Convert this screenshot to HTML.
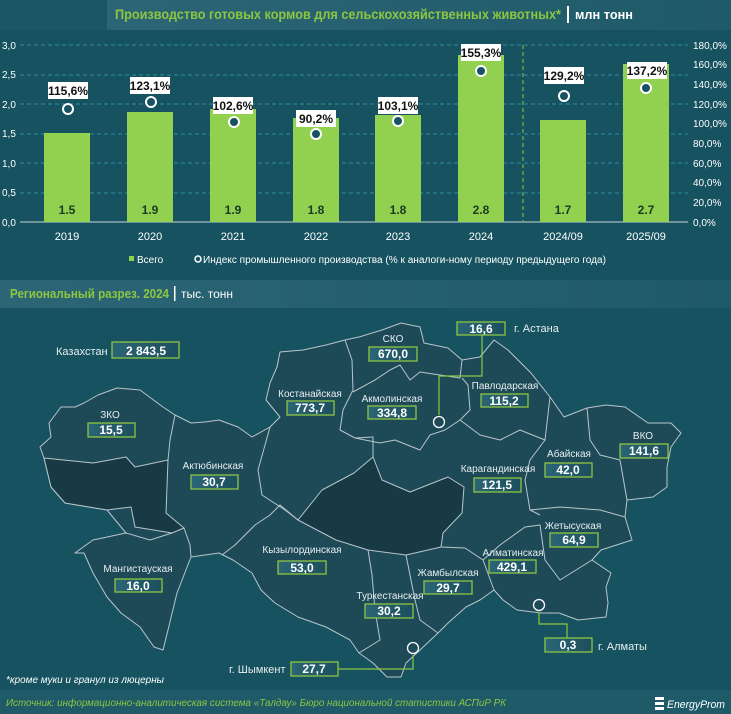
<!DOCTYPE html>
<html><head><meta charset="utf-8"><style>
html,body{margin:0;padding:0;background:#16525f;}
svg{display:block;font-family:"Liberation Sans",sans-serif;}
</style></head><body>
<svg width="731" height="714" viewBox="0 0 731 714" xmlns="http://www.w3.org/2000/svg">
<defs>
<linearGradient id="bx" x1="0" x2="1"><stop offset="0" stop-color="#2b6676"/><stop offset="1" stop-color="#1c4f5d"/></linearGradient>
<linearGradient id="hd" x1="0" x2="1"><stop offset="0" stop-color="#2c6676"/><stop offset="1" stop-color="#1f5a69"/></linearGradient>
</defs>
<rect width="731" height="714" fill="#16525f"/>
<rect x="0" y="0" width="107" height="30" fill="#1b5664"/>
<rect x="107" y="0" width="624" height="30" fill="url(#hd)"/>
<text x="115" y="19" font-size="14" font-weight="bold" fill="#8dc641" textLength="446" lengthAdjust="spacingAndGlyphs">Производство готовых кормов для сельскохозяйственных животных*</text>
<rect x="567" y="6" width="2" height="17" fill="#fff"/>
<text x="575" y="19" font-size="13" font-weight="bold" fill="#fff" textLength="58" lengthAdjust="spacingAndGlyphs">млн тонн</text>
<g stroke="#2e8ea0" stroke-width="1" stroke-dasharray="4,3">
<line x1="20" y1="45" x2="688" y2="45"/><line x1="20" y1="75" x2="688" y2="75"/><line x1="20" y1="104" x2="688" y2="104"/><line x1="20" y1="134" x2="688" y2="134"/><line x1="20" y1="163" x2="688" y2="163"/><line x1="20" y1="193" x2="688" y2="193"/>
</g>
<line x1="20" y1="222" x2="688" y2="222" stroke="#c8d4d8" stroke-width="1"/>
<line x1="523" y1="45" x2="523" y2="222" stroke="#8dc641" stroke-dasharray="4,3"/>
<g font-size="10" fill="#fff">
<text x="2" y="49">3,0</text><text x="2" y="78">2,5</text><text x="2" y="108">2,0</text><text x="2" y="137">1,5</text><text x="2" y="167">1,0</text><text x="2" y="196">0,5</text><text x="2" y="226">0,0</text>
<text x="693" y="49">180,0%</text><text x="693" y="68">160,0%</text><text x="693" y="88">140,0%</text><text x="693" y="108">120,0%</text><text x="693" y="127">100,0%</text><text x="693" y="147">80,0%</text><text x="693" y="167">60,0%</text><text x="693" y="186">40,0%</text><text x="693" y="206">20,0%</text><text x="693" y="226">0,0%</text>
</g>
<g fill="#92d050">
<rect x="44" y="133" width="46" height="89"/>
<rect x="127" y="112" width="46" height="110"/>
<rect x="210" y="109" width="46" height="113"/>
<rect x="293" y="118" width="46" height="104"/>
<rect x="375" y="115" width="46" height="107"/>
<rect x="458" y="55" width="46" height="167"/>
<rect x="540" y="120" width="46" height="102"/>
<rect x="623" y="64" width="46" height="158"/>
</g>
<g font-size="12" font-weight="bold" fill="#1a3a22" text-anchor="middle">
<text x="67" y="214">1.5</text><text x="150" y="214">1.9</text><text x="233" y="214">1.9</text><text x="316" y="214">1.8</text><text x="398" y="214">1.8</text><text x="481" y="214">2.8</text><text x="563" y="214">1.7</text><text x="646" y="214">2.7</text>
</g>
<g font-size="11" fill="#fff" text-anchor="middle">
<text x="67" y="240">2019</text><text x="150" y="240">2020</text><text x="233" y="240">2021</text><text x="316" y="240">2022</text><text x="398" y="240">2023</text><text x="481" y="240">2024</text><text x="563" y="240">2024/09</text><text x="646" y="240">2025/09</text>
</g>
<g fill="#16525f" stroke="#fff" stroke-width="2">
<circle cx="68" cy="109" r="5"/><circle cx="151" cy="102" r="5"/><circle cx="234" cy="122" r="5"/><circle cx="316" cy="134" r="5"/><circle cx="398" cy="121" r="5"/><circle cx="481" cy="71" r="5"/><circle cx="564" cy="96" r="5"/><circle cx="646" cy="88" r="5"/>
</g>
<g fill="#fff">
<rect x="48" y="82" width="40" height="17"/><rect x="130" y="77" width="40" height="17"/><rect x="213" y="97" width="40" height="17"/><rect x="296" y="110" width="40" height="17"/><rect x="378" y="97" width="40" height="17"/><rect x="461" y="44" width="40" height="17"/><rect x="544" y="67" width="40" height="17"/><rect x="627" y="62" width="40" height="17"/>
</g>
<g font-size="12" font-weight="bold" fill="#111" text-anchor="middle">
<text x="68" y="95">115,6%</text><text x="150" y="90">123,1%</text><text x="233" y="110">102,6%</text><text x="316" y="123">90,2%</text><text x="398" y="110">103,1%</text><text x="481" y="57">155,3%</text><text x="564" y="80">129,2%</text><text x="647" y="75">137,2%</text>
</g>
<rect x="129" y="256" width="5" height="5" fill="#92d050"/>
<text x="137" y="263" font-size="10" fill="#fff">Всего</text>
<circle cx="198" cy="259" r="3" fill="#16525f" stroke="#fff" stroke-width="1.5"/>
<text x="203" y="263" font-size="10" fill="#fff" textLength="403" lengthAdjust="spacingAndGlyphs">Индекс промышленного производства (% к аналоги-ному периоду предыдущего года)</text>
<rect x="0" y="277" width="731" height="32" fill="#16525f"/>
<rect x="0" y="280" width="731" height="28" fill="url(#hd)"/>
<text x="10" y="298" font-size="13" font-weight="bold" fill="#8dc641" textLength="159" lengthAdjust="spacingAndGlyphs">Региональный разрез. 2024</text>
<rect x="174" y="286" width="1.5" height="15" fill="#fff"/>
<text x="181" y="298" font-size="12" fill="#fff" textLength="52" lengthAdjust="spacingAndGlyphs">тыс. тонн</text>
<g stroke="#b8c6ca" stroke-width="1" stroke-linejoin="round">
<polygon fill="#1e4a58" points="44,458 40,447 51,437 49,423 61,407 75,407 84,403 98,395 117,388 140,390 163,407 175,415 191,423 205,422 219,420 238,427 252,437 270,427 280,417 266,400 270,383 277,367 280,352 303,350 326,345 345,340 359,337 382,330 401,323 420,327 424,343 448,348 462,360 480,357 494,340 508,350 531,373 550,397 564,417 587,408 606,405 625,407 648,423 671,423 681,433 671,447 667,467 667,487 653,497 627,500 625,517 632,540 601,550 592,560 611,573 606,587 608,603 606,617 578,620 559,613 541,613 517,610 503,600 494,590 480,600 466,607 448,623 438,633 420,650 406,663 401,677 387,677 373,663 359,653 350,640 326,627 298,617 275,603 261,590 252,573 233,560 219,553 191,557 177,593 168,630 163,650 154,647 140,627 121,613 107,597 93,573 84,553 75,553 93,540 126,533 107,510 65,503 51,487"/>
<polygon fill="#173a45" points="44,458 93,463 126,457 135,467 168,460 166,513 184,528 172,533 135,527 131,507 107,510 65,503 51,487"/>
<polygon fill="#173a45" points="298,520 322,490 354,473 373,457 382,480 410,492 448,477 464,487 462,513 443,533 441,547 406,555 368,550 336,540"/>
<g fill="none">
<polyline points="175,415 170,440 168,460"/>
<polyline points="270,427 265,445 258,470 262,495 285,510 298,520"/>
<polyline points="298,520 280,505 270,515 255,525 235,545 222,555"/>
<polyline points="184,528 190,545 191,557"/>
<polyline points="172,533 150,540 126,533"/>
<polyline points="345,340 352,360 353,390 343,410 340,430 355,438 373,437 373,457"/>
<polyline points="353,392 375,380 390,370 400,365 410,380 420,372 440,375 460,378 462,360"/>
<polyline points="355,438 380,443 395,440 420,450 430,435 445,430 460,420 470,410 468,385 462,378"/>
<polyline points="460,420 480,435 500,440 520,430 545,440 550,397"/>
<polyline points="545,440 530,460 525,480 530,510 540,515"/>
<polyline points="587,408 590,440 600,455 620,460 627,500"/>
<polyline points="530,510 560,507 600,510 625,517"/>
<polyline points="483,560 500,545 525,527 540,525 545,560 560,580 592,560"/>
<polyline points="441,547 465,548 483,560 494,590"/>
<polyline points="368,550 372,575 375,610 380,640 359,653"/>
<polyline points="406,555 410,575 415,600 420,620 438,633"/>
</g>
</g>
<g stroke="#8dc641" stroke-width="1.2" fill="none">
<polyline points="482,335 482,376 439,376 439,415"/>
<polyline points="539,612 539,624 567,624 567,638"/>
<polyline points="338,669 413,669 413,655"/>
</g>
<g fill="none" stroke="#fff" stroke-width="1.3">
<circle cx="439" cy="422" r="5.5"/><circle cx="539" cy="605" r="5.5"/><circle cx="413" cy="648" r="5.5"/>
</g>
<g fill="url(#bx)" stroke="#8dc641" stroke-width="1.3">
<rect x="112" y="342" width="67" height="16"/>
<rect x="369" y="347" width="48" height="14"/>
<rect x="457" y="322" width="48" height="13"/>
<rect x="287" y="401" width="47" height="14"/>
<rect x="368" y="406" width="48" height="13"/>
<rect x="481" y="394" width="47" height="13"/>
<rect x="88" y="423" width="47" height="14"/>
<rect x="191" y="475" width="47" height="14"/>
<rect x="474" y="478" width="47" height="14"/>
<rect x="545" y="463" width="47" height="14"/>
<rect x="620" y="444" width="48" height="14"/>
<rect x="550" y="533" width="48" height="14"/>
<rect x="489" y="560" width="47" height="13"/>
<rect x="278" y="561" width="48" height="13"/>
<rect x="115" y="579" width="47" height="13"/>
<rect x="424" y="581" width="48" height="13"/>
<rect x="365" y="604" width="48" height="14"/>
<rect x="545" y="638" width="47" height="14"/>
<rect x="291" y="662" width="47" height="14"/>
</g>
<g font-size="12" font-weight="bold" fill="#fff" text-anchor="middle">
<text x="146" y="355">2 843,5</text>
<text x="393" y="358">670,0</text>
<text x="481" y="333">16,6</text>
<text x="310" y="412">773,7</text>
<text x="392" y="417">334,8</text>
<text x="504" y="405">115,2</text>
<text x="111" y="434">15,5</text>
<text x="214" y="486">30,7</text>
<text x="497" y="489">121,5</text>
<text x="568" y="474">42,0</text>
<text x="644" y="455">141,6</text>
<text x="574" y="544">64,9</text>
<text x="512" y="571">429,1</text>
<text x="302" y="572">53,0</text>
<text x="138" y="590">16,0</text>
<text x="448" y="592">29,7</text>
<text x="389" y="615">30,2</text>
<text x="568" y="649">0,3</text>
<text x="314" y="673">27,7</text>
</g>
<g font-size="10" fill="#e6eef0" text-anchor="middle">
<text x="393" y="342">СКО</text>
<text x="310" y="397">Костанайская</text>
<text x="392" y="402">Акмолинская</text>
<text x="505" y="389">Павлодарская</text>
<text x="110" y="418">ЗКО</text>
<text x="213" y="469">Актюбинская</text>
<text x="498" y="472">Карагандинская</text>
<text x="569" y="457">Абайская</text>
<text x="643" y="439">ВКО</text>
<text x="573" y="529">Жетысуская</text>
<text x="513" y="556">Алматинская</text>
<text x="302" y="553">Кызылординская</text>
<text x="138" y="572">Мангистауская</text>
<text x="448" y="576">Жамбылская</text>
<text x="390" y="599">Туркестанская</text>
</g>
<g font-size="11" fill="#e6eef0">
<text x="56" y="355">Казахстан</text>
<text x="514" y="332">г. Астана</text>
<text x="598" y="650">г. Алматы</text>
<text x="229" y="673">г. Шымкент</text>
</g>
<text x="6" y="683" font-size="10" font-style="italic" fill="#fff" textLength="158" lengthAdjust="spacingAndGlyphs">*кроме муки и гранул из люцерны</text>
<rect x="0" y="690" width="731" height="24" fill="#1f5a69"/>
<text x="6" y="706" font-size="10.5" font-style="italic" fill="#8dc641" textLength="500" lengthAdjust="spacingAndGlyphs">Источник: информационно-аналитическая система «Талдау» Бюро национальной статистики АСПиР РК</text>
<g fill="#fff"><rect x="655" y="697" width="9" height="3"/><rect x="655" y="702" width="9" height="3"/><rect x="655" y="707" width="9" height="3"/></g>
<text x="667" y="708" font-size="11" font-style="italic" fill="#fff" textLength="58" lengthAdjust="spacingAndGlyphs">EnergyProm</text>
</svg>
</body></html>
